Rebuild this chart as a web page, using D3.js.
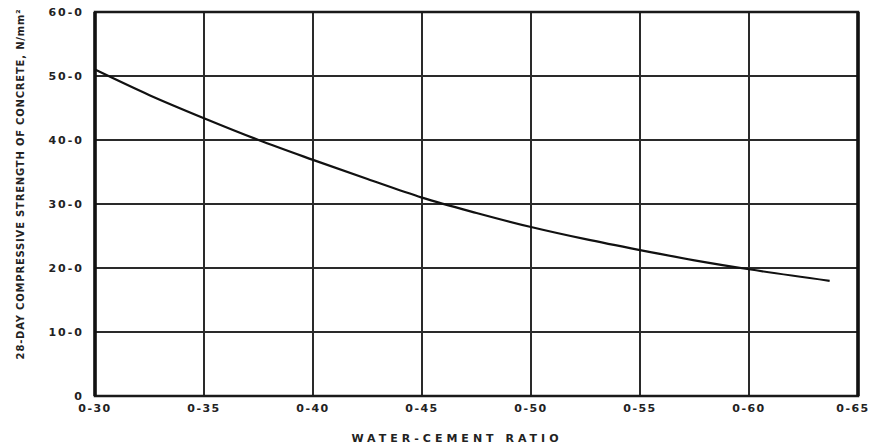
<!DOCTYPE html>
<html>
<head>
<meta charset="utf-8">
<script src="https://cdn.jsdelivr.net/npm/d3@7"></script>
<style>
  body { margin: 0; background: #fff; }
  text { font-family: "DejaVu Sans", sans-serif; font-weight: bold; fill: #222; }
</style>
</head>
<body>
<svg id="chart" width="875" height="447"></svg>
<script>
// water-cement ratio vs 28-day strength (N/mm2)
const ratios = [0.30, 0.325, 0.35, 0.375, 0.40, 0.425, 0.45, 0.475, 0.50, 0.525, 0.55, 0.575, 0.60, 0.637];
const strengths = [51.0, 47.0, 43.4, 40.0, 36.9, 33.9, 31.0, 28.6, 26.4, 24.5, 22.8, 21.2, 19.8, 18.0];
const xTicks = [0.30, 0.35, 0.40, 0.45, 0.50, 0.55, 0.60, 0.65];
const xTickLabels = ['0-30', '0-35', '0-40', '0-45', '0-50', '0-55', '0-60', '0-65'];
const yTicks = [0, 10, 20, 30, 40, 50, 60];
const yTickLabels = ['0', '10-0', '20-0', '30-0', '40-0', '50-0', '60-0'];

const margin = {top: 12, right: 17, bottom: 51, left: 95};
const width = 875, height = 447;

const svg = d3.select('#chart');
const x = d3.scaleLinear().domain([0.30, 0.65]).range([margin.left, width - margin.right]);
const y = d3.scaleLinear().domain([0, 60]).range([height - margin.bottom, margin.top]);

const grid = svg.append('g').attr('stroke', '#2a2a2a').attr('stroke-width', 2);
grid.selectAll('line.v').data(xTicks.slice(1, -1)).enter().append('line')
  .attr('class', 'v')
  .attr('x1', d => x(d)).attr('x2', d => x(d))
  .attr('y1', y(60)).attr('y2', y(0));
grid.selectAll('line.h').data(yTicks.slice(1, -1)).enter().append('line')
  .attr('class', 'h')
  .attr('x1', x(0.30)).attr('x2', x(0.65))
  .attr('y1', d => y(d)).attr('y2', d => y(d));

// frame
svg.append('rect')
  .attr('x', x(0.30)).attr('y', y(60))
  .attr('width', x(0.65) - x(0.30)).attr('height', y(0) - y(60))
  .attr('fill', 'none').attr('stroke', '#1a1a1a').attr('stroke-width', 2.5);
svg.append('line')
  .attr('x1', x(0.30)).attr('x2', x(0.30)).attr('y1', y(60)).attr('y2', y(0))
  .attr('stroke', '#111').attr('stroke-width', 3.5);
svg.append('line')
  .attr('x1', x(0.65)).attr('x2', x(0.65)).attr('y1', y(60)).attr('y2', y(0))
  .attr('stroke', '#111').attr('stroke-width', 3.5);

// curve
const line = d3.line().x((d, i) => x(ratios[i])).y(d => y(d)).curve(d3.curveMonotoneX);
svg.append('path').datum(strengths)
  .attr('d', line).attr('fill', 'none')
  .attr('stroke', '#111').attr('stroke-width', 2.2);

// x tick labels (last one kept inside the window)
svg.selectAll('text.xt').data(xTicks).enter().append('text')
  .attr('class', 'xt')
  .attr('x', d => Math.min(x(d), width - 22)).attr('y', y(0) + 16)
  .attr('text-anchor', 'middle').attr('font-size', 11).attr('letter-spacing', 1.5)
  .text((d, i) => xTickLabels[i]);

// y tick labels
svg.selectAll('text.yt').data(yTicks).enter().append('text')
  .attr('class', 'yt')
  .attr('x', margin.left - 11).attr('y', d => y(d) + 4)
  .attr('text-anchor', 'end').attr('font-size', 11).attr('letter-spacing', 2)
  .text((d, i) => yTickLabels[i]);

// axis titles
svg.append('text')
  .attr('x', 457).attr('y', 442)
  .attr('text-anchor', 'middle').attr('font-size', 11).attr('letter-spacing', 4)
  .text('WATER-CEMENT RATIO');

svg.append('text')
  .attr('transform', `translate(24,${(y(0) + y(60)) / 2 - 20}) rotate(-90)`)
  .attr('text-anchor', 'middle').attr('font-size', 10).attr('letter-spacing', 0.8)
  .text('28-DAY COMPRESSIVE STRENGTH OF CONCRETE, N/mm²');
</script>
</body>
</html>
